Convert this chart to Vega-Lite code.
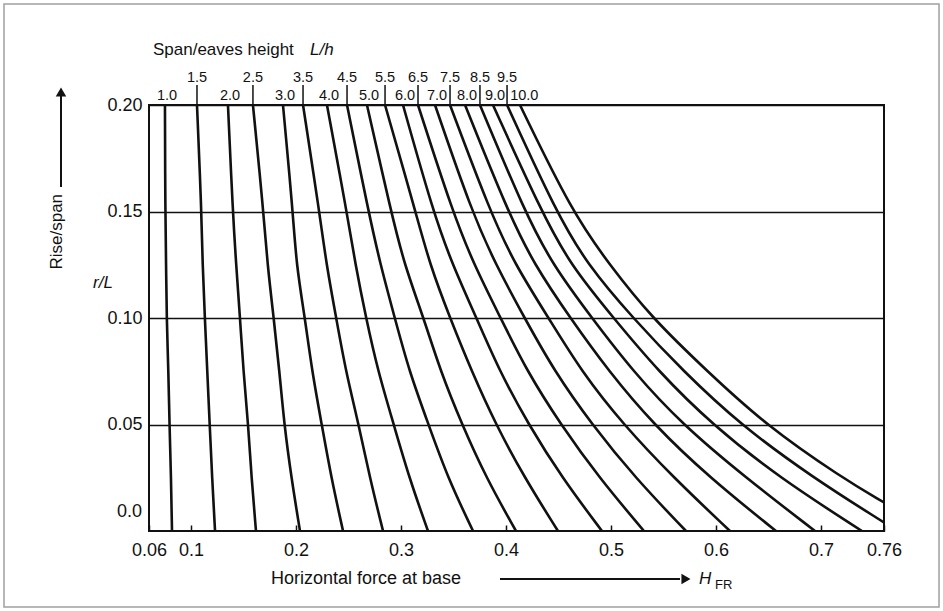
{
  "$schema": "https://vega.github.io/schema/vega-lite/v6.json",
  "width": 735,
  "height": 426,
  "autosize": "none",
  "padding": {"left": 149, "top": 105, "right": 59, "bottom": 80},
  "background": "white",
  "config": {
    "view": {"stroke": "#111", "strokeWidth": 2},
    "font": "Liberation Sans",
    "text": {"font": "Liberation Sans", "color": "#111"}
  },
  "datasets": {
    "curves": [
      {"Lh": "1.0", "r": 0.2, "H": 0.0752}, {"Lh": "1.0", "r": 0.15, "H": 0.0755}, {"Lh": "1.0", "r": 0.125, "H": 0.0763}, {"Lh": "1.0", "r": 0.1, "H": 0.0768}, {"Lh": "1.0", "r": 0.075, "H": 0.0785}, {"Lh": "1.0", "r": 0.05, "H": 0.0795}, {"Lh": "1.0", "r": 0.025, "H": 0.081}, {"Lh": "1.0", "r": 0, "H": 0.0819},
      {"Lh": "1.5", "r": 0.2, "H": 0.1057}, {"Lh": "1.5", "r": 0.15, "H": 0.11}, {"Lh": "1.5", "r": 0.125, "H": 0.111}, {"Lh": "1.5", "r": 0.1, "H": 0.1132}, {"Lh": "1.5", "r": 0.075, "H": 0.1155}, {"Lh": "1.5", "r": 0.05, "H": 0.1178}, {"Lh": "1.5", "r": 0.025, "H": 0.1201}, {"Lh": "1.5", "r": 0, "H": 0.1229},
      {"Lh": "2.0", "r": 0.2, "H": 0.1352}, {"Lh": "2.0", "r": 0.15, "H": 0.1398}, {"Lh": "2.0", "r": 0.125, "H": 0.143}, {"Lh": "2.0", "r": 0.1, "H": 0.1467}, {"Lh": "2.0", "r": 0.075, "H": 0.1499}, {"Lh": "2.0", "r": 0.05, "H": 0.1545}, {"Lh": "2.0", "r": 0.025, "H": 0.1576}, {"Lh": "2.0", "r": 0, "H": 0.1619},
      {"Lh": "2.5", "r": 0.2, "H": 0.159}, {"Lh": "2.5", "r": 0.15, "H": 0.169}, {"Lh": "2.5", "r": 0.125, "H": 0.1728}, {"Lh": "2.5", "r": 0.1, "H": 0.1788}, {"Lh": "2.5", "r": 0.075, "H": 0.1842}, {"Lh": "2.5", "r": 0.05, "H": 0.1888}, {"Lh": "2.5", "r": 0.025, "H": 0.1956}, {"Lh": "2.5", "r": 0, "H": 0.2038},
      {"Lh": "3.0", "r": 0.2, "H": 0.1876}, {"Lh": "3.0", "r": 0.15, "H": 0.197}, {"Lh": "3.0", "r": 0.125, "H": 0.2003}, {"Lh": "3.0", "r": 0.1, "H": 0.2085}, {"Lh": "3.0", "r": 0.075, "H": 0.2153}, {"Lh": "3.0", "r": 0.05, "H": 0.2245}, {"Lh": "3.0", "r": 0.025, "H": 0.2336}, {"Lh": "3.0", "r": 0, "H": 0.2448},
      {"Lh": "3.5", "r": 0.2, "H": 0.2067}, {"Lh": "3.5", "r": 0.15, "H": 0.2222}, {"Lh": "3.5", "r": 0.125, "H": 0.229}, {"Lh": "3.5", "r": 0.1, "H": 0.2383}, {"Lh": "3.5", "r": 0.075, "H": 0.2474}, {"Lh": "3.5", "r": 0.05, "H": 0.2597}, {"Lh": "3.5", "r": 0.025, "H": 0.2703}, {"Lh": "3.5", "r": 0, "H": 0.2829},
      {"Lh": "4.0", "r": 0.2, "H": 0.2295}, {"Lh": "4.0", "r": 0.15, "H": 0.2483}, {"Lh": "4.0", "r": 0.125, "H": 0.2566}, {"Lh": "4.0", "r": 0.1, "H": 0.2667}, {"Lh": "4.0", "r": 0.075, "H": 0.2781}, {"Lh": "4.0", "r": 0.05, "H": 0.2931}, {"Lh": "4.0", "r": 0.025, "H": 0.3078}, {"Lh": "4.0", "r": 0, "H": 0.3257},
      {"Lh": "4.5", "r": 0.2, "H": 0.2486}, {"Lh": "4.5", "r": 0.15, "H": 0.269}, {"Lh": "4.5", "r": 0.125, "H": 0.2804}, {"Lh": "4.5", "r": 0.1, "H": 0.2941}, {"Lh": "4.5", "r": 0.075, "H": 0.3078}, {"Lh": "4.5", "r": 0.05, "H": 0.3262}, {"Lh": "4.5", "r": 0.025, "H": 0.3445}, {"Lh": "4.5", "r": 0, "H": 0.3686},
      {"Lh": "5.0", "r": 0.2, "H": 0.2676}, {"Lh": "5.0", "r": 0.15, "H": 0.2905}, {"Lh": "5.0", "r": 0.125, "H": 0.3032}, {"Lh": "5.0", "r": 0.1, "H": 0.3216}, {"Lh": "5.0", "r": 0.075, "H": 0.3376}, {"Lh": "5.0", "r": 0.05, "H": 0.3581}, {"Lh": "5.0", "r": 0.025, "H": 0.3811}, {"Lh": "5.0", "r": 0, "H": 0.4095},
      {"Lh": "5.5", "r": 0.2, "H": 0.2848}, {"Lh": "5.5", "r": 0.15, "H": 0.3138}, {"Lh": "5.5", "r": 0.125, "H": 0.3275}, {"Lh": "5.5", "r": 0.1, "H": 0.3467}, {"Lh": "5.5", "r": 0.075, "H": 0.3673}, {"Lh": "5.5", "r": 0.05, "H": 0.3903}, {"Lh": "5.5", "r": 0.025, "H": 0.4177}, {"Lh": "5.5", "r": 0, "H": 0.4495},
      {"Lh": "6.0", "r": 0.2, "H": 0.3019}, {"Lh": "6.0", "r": 0.15, "H": 0.3305}, {"Lh": "6.0", "r": 0.125, "H": 0.349}, {"Lh": "6.0", "r": 0.1, "H": 0.3719}, {"Lh": "6.0", "r": 0.075, "H": 0.3939}, {"Lh": "6.0", "r": 0.05, "H": 0.4214}, {"Lh": "6.0", "r": 0.025, "H": 0.4534}, {"Lh": "6.0", "r": 0, "H": 0.4914},
      {"Lh": "6.5", "r": 0.2, "H": 0.3162}, {"Lh": "6.5", "r": 0.15, "H": 0.349}, {"Lh": "6.5", "r": 0.125, "H": 0.3695}, {"Lh": "6.5", "r": 0.1, "H": 0.3949}, {"Lh": "6.5", "r": 0.075, "H": 0.42}, {"Lh": "6.5", "r": 0.05, "H": 0.4521}, {"Lh": "6.5", "r": 0.025, "H": 0.4887}, {"Lh": "6.5", "r": 0, "H": 0.5314},
      {"Lh": "7.0", "r": 0.2, "H": 0.3324}, {"Lh": "7.0", "r": 0.15, "H": 0.3673}, {"Lh": "7.0", "r": 0.125, "H": 0.3903}, {"Lh": "7.0", "r": 0.1, "H": 0.4177}, {"Lh": "7.0", "r": 0.075, "H": 0.4461}, {"Lh": "7.0", "r": 0.05, "H": 0.4818}, {"Lh": "7.0", "r": 0.025, "H": 0.523}, {"Lh": "7.0", "r": 0, "H": 0.5714},
      {"Lh": "7.5", "r": 0.2, "H": 0.3467}, {"Lh": "7.5", "r": 0.15, "H": 0.3848}, {"Lh": "7.5", "r": 0.125, "H": 0.4086}, {"Lh": "7.5", "r": 0.1, "H": 0.4406}, {"Lh": "7.5", "r": 0.075, "H": 0.4717}, {"Lh": "7.5", "r": 0.05, "H": 0.5116}, {"Lh": "7.5", "r": 0.025, "H": 0.5597}, {"Lh": "7.5", "r": 0, "H": 0.6133},
      {"Lh": "8.0", "r": 0.2, "H": 0.361}, {"Lh": "8.0", "r": 0.15, "H": 0.4017}, {"Lh": "8.0", "r": 0.125, "H": 0.4269}, {"Lh": "8.0", "r": 0.1, "H": 0.4612}, {"Lh": "8.0", "r": 0.075, "H": 0.4978}, {"Lh": "8.0", "r": 0.05, "H": 0.5405}, {"Lh": "8.0", "r": 0.025, "H": 0.594}, {"Lh": "8.0", "r": 0, "H": 0.6571},
      {"Lh": "8.5", "r": 0.2, "H": 0.3752}, {"Lh": "8.5", "r": 0.15, "H": 0.4177}, {"Lh": "8.5", "r": 0.125, "H": 0.4443}, {"Lh": "8.5", "r": 0.1, "H": 0.4818}, {"Lh": "8.5", "r": 0.075, "H": 0.5208}, {"Lh": "8.5", "r": 0.05, "H": 0.5679}, {"Lh": "8.5", "r": 0.025, "H": 0.6284}, {"Lh": "8.5", "r": 0, "H": 0.6943},
      {"Lh": "9.0", "r": 0.2, "H": 0.3876}, {"Lh": "9.0", "r": 0.15, "H": 0.4337}, {"Lh": "9.0", "r": 0.125, "H": 0.4612}, {"Lh": "9.0", "r": 0.1, "H": 0.5024}, {"Lh": "9.0", "r": 0.075, "H": 0.545}, {"Lh": "9.0", "r": 0.05, "H": 0.5962}, {"Lh": "9.0", "r": 0.025, "H": 0.6604}, {"Lh": "9.0", "r": 0, "H": 0.739},
      {"Lh": "9.5", "r": 0.2, "H": 0.401}, {"Lh": "9.5", "r": 0.15, "H": 0.4475}, {"Lh": "9.5", "r": 0.125, "H": 0.4775}, {"Lh": "9.5", "r": 0.1, "H": 0.5208}, {"Lh": "9.5", "r": 0.075, "H": 0.5689}, {"Lh": "9.5", "r": 0.05, "H": 0.6229}, {"Lh": "9.5", "r": 0.025, "H": 0.6925}, {"Lh": "9.5", "r": 0.004, "H": 0.76},
      {"Lh": "10.0", "r": 0.2, "H": 0.4133}, {"Lh": "10.0", "r": 0.15, "H": 0.4626}, {"Lh": "10.0", "r": 0.125, "H": 0.4985}, {"Lh": "10.0", "r": 0.1, "H": 0.539}, {"Lh": "10.0", "r": 0.075, "H": 0.5917}, {"Lh": "10.0", "r": 0.05, "H": 0.6467}, {"Lh": "10.0", "r": 0.025, "H": 0.7199}, {"Lh": "10.0", "r": 0.0134, "H": 0.76}
    ],
    "tops": [
      {"Lh": "1.0", "H": 0.0752, "half": false}, {"Lh": "1.5", "H": 0.1057, "half": true},
      {"Lh": "2.0", "H": 0.1352, "half": false}, {"Lh": "2.5", "H": 0.159, "half": true},
      {"Lh": "3.0", "H": 0.1876, "half": false}, {"Lh": "3.5", "H": 0.2067, "half": true},
      {"Lh": "4.0", "H": 0.2295, "half": false}, {"Lh": "4.5", "H": 0.2486, "half": true},
      {"Lh": "5.0", "H": 0.2676, "half": false}, {"Lh": "5.5", "H": 0.2848, "half": true},
      {"Lh": "6.0", "H": 0.3019, "half": false}, {"Lh": "6.5", "H": 0.3162, "half": true},
      {"Lh": "7.0", "H": 0.3324, "half": false}, {"Lh": "7.5", "H": 0.3467, "half": true},
      {"Lh": "8.0", "H": 0.361, "half": false}, {"Lh": "8.5", "H": 0.3752, "half": true},
      {"Lh": "9.0", "H": 0.3876, "half": false}, {"Lh": "9.5", "H": 0.401, "half": true},
      {"Lh": "10.0", "H": 0.4155, "half": false}
    ]
  },
  "layer": [
    {
      "data": {"name": "curves"},
      "mark": {"type": "line", "color": "#111", "strokeWidth": 2.6, "interpolate": "basis", "clip": true},
      "encoding": {
        "x": {
          "field": "H", "type": "quantitative",
          "scale": {"domain": [0.06, 0.76], "nice": false, "zero": false},
          "axis": {
            "title": null,
            "values": [0.06, 0.1, 0.2, 0.3, 0.4, 0.5, 0.6, 0.7, 0.76],
            "labelExpr": "format(datum.value, '~g')",
            "labelFont": "Liberation Sans", "labelFontSize": 18, "labelColor": "#111",
            "labelPadding": 16, "labelFlush": false, "labelOverlap": false,
            "grid": false, "domain": false,
            "ticks": true, "tickSize": -6, "tickColor": "#111", "tickWidth": 1.5
          }
        },
        "y": {
          "field": "r", "type": "quantitative",
          "scale": {"domain": [0, 0.2], "nice": false, "zero": false},
          "axis": {
            "title": null,
            "values": [0.05, 0.1, 0.15, 0.2],
            "format": ".2f",
            "labelFont": "Liberation Sans", "labelFontSize": 18, "labelColor": "#111",
            "labelPadding": 7, "labelFlush": false, "labelOverlap": false,
            "grid": true, "gridColor": "#111", "gridWidth": 1.6, "gridOpacity": 1,
            "ticks": false, "domain": false
          }
        },
        "detail": {"field": "Lh", "type": "nominal"},
        "order": {"field": "r", "type": "quantitative"}
      }
    },
    {
      "data": {"values": [{}]},
      "mark": {"type": "rect", "fillOpacity": 0, "stroke": "#a0a0a0", "strokeWidth": 1.5},
      "encoding": {
        "x": {"datum": -0.0781, "type": "quantitative", "scale": {"domain": [0.06, 0.76], "nice": false, "zero": false}},
        "x2": {"datum": 0.8124},
        "y": {"datum": 0.2474, "type": "quantitative", "scale": {"domain": [0, 0.2], "nice": false, "zero": false}},
        "y2": {"datum": -0.0357}
      }
    },
    {
      "data": {"name": "tops"},
      "transform": [{"filter": "datum.half"}],
      "mark": {"type": "rule", "color": "#111", "strokeWidth": 1.5},
      "encoding": {
        "x": {"field": "H", "type": "quantitative", "scale": {"domain": [0.06, 0.76], "nice": false, "zero": false}},
        "y": {"datum": 0.2, "type": "quantitative", "scale": {"domain": [0, 0.2], "nice": false, "zero": false}},
        "y2": {"datum": 0.2094}
      }
    },
    {
      "data": {"name": "tops"},
      "transform": [{"filter": "!datum.half"}],
      "mark": {"type": "text", "fontSize": 14.5, "baseline": "middle", "align": "center", "dy": -9, "dx": 2},
      "encoding": {
        "x": {"field": "H", "type": "quantitative", "scale": {"domain": [0.06, 0.76], "nice": false, "zero": false}},
        "y": {"datum": 0.2, "type": "quantitative", "scale": {"domain": [0, 0.2], "nice": false, "zero": false}},
        "text": {"field": "Lh"}
      }
    },
    {
      "data": {"name": "tops"},
      "transform": [{"filter": "datum.half"}],
      "mark": {"type": "text", "fontSize": 14.5, "baseline": "middle", "align": "center", "dy": -27},
      "encoding": {
        "x": {"field": "H", "type": "quantitative", "scale": {"domain": [0.06, 0.76], "nice": false, "zero": false}},
        "y": {"datum": 0.2, "type": "quantitative", "scale": {"domain": [0, 0.2], "nice": false, "zero": false}},
        "text": {"field": "Lh"}
      }
    },
    {
      "data": {"values": [
        {"t": "Span/eaves height", "H": 0.0638, "r": 0.2258}
      ]},
      "mark": {"type": "text", "baseline": "middle", "align": "left", "fontSize": 17},
      "encoding": {
        "x": {"field": "H", "type": "quantitative", "scale": {"domain": [0.06, 0.76], "nice": false, "zero": false}},
        "y": {"field": "r", "type": "quantitative", "scale": {"domain": [0, 0.2], "nice": false, "zero": false}},
        "text": {"field": "t"}
      }
    },
    {
      "data": {"values": [
        {"t": "Horizontal force at base", "H": 0.1762, "r": -0.0225}
      ]},
      "mark": {"type": "text", "baseline": "middle", "align": "left", "fontSize": 18},
      "encoding": {
        "x": {"field": "H", "type": "quantitative", "scale": {"domain": [0.06, 0.76], "nice": false, "zero": false}},
        "y": {"field": "r", "type": "quantitative", "scale": {"domain": [0, 0.2], "nice": false, "zero": false}},
        "text": {"field": "t"}
      }
    },
    {
      "data": {"values": [
        {"t": "L/h", "H": 0.2133, "r": 0.2258},
        {"t": "H", "H": 0.5838, "r": -0.0225}
      ]},
      "mark": {"type": "text", "baseline": "middle", "align": "left", "fontSize": 17, "fontStyle": "italic"},
      "encoding": {
        "x": {"field": "H", "type": "quantitative", "scale": {"domain": [0.06, 0.76], "nice": false, "zero": false}},
        "y": {"field": "r", "type": "quantitative", "scale": {"domain": [0, 0.2], "nice": false, "zero": false}},
        "text": {"field": "t"}
      }
    },
    {
      "data": {"values": [{"t": "r/L", "H": 0.0162, "r": 0.1164}]},
      "mark": {"type": "text", "baseline": "middle", "align": "center", "fontSize": 17, "fontStyle": "italic"},
      "encoding": {
        "x": {"field": "H", "type": "quantitative", "scale": {"domain": [0.06, 0.76], "nice": false, "zero": false}},
        "y": {"field": "r", "type": "quantitative", "scale": {"domain": [0, 0.2], "nice": false, "zero": false}},
        "text": {"field": "t"}
      }
    },
    {
      "data": {"values": [{"t": "0.0", "H": 0.06, "r": 0}]},
      "mark": {"type": "text", "baseline": "middle", "align": "right", "fontSize": 18, "dx": -7, "dy": -19},
      "encoding": {
        "x": {"field": "H", "type": "quantitative", "scale": {"domain": [0.06, 0.76], "nice": false, "zero": false}},
        "y": {"field": "r", "type": "quantitative", "scale": {"domain": [0, 0.2], "nice": false, "zero": false}},
        "text": {"field": "t"}
      }
    },
    {
      "data": {"values": [{"t": "FR", "H": 0.599, "r": -0.0225}]},
      "mark": {"type": "text", "baseline": "middle", "align": "left", "fontSize": 13, "dy": 6},
      "encoding": {
        "x": {"field": "H", "type": "quantitative", "scale": {"domain": [0.06, 0.76], "nice": false, "zero": false}},
        "y": {"field": "r", "type": "quantitative", "scale": {"domain": [0, 0.2], "nice": false, "zero": false}},
        "text": {"field": "t"}
      }
    },
    {
      "data": {"values": [{"t": "Rise/span", "H": -0.0276, "r": 0.1405}]},
      "mark": {"type": "text", "baseline": "middle", "align": "center", "fontSize": 17, "angle": 270},
      "encoding": {
        "x": {"field": "H", "type": "quantitative", "scale": {"domain": [0.06, 0.76], "nice": false, "zero": false}},
        "y": {"field": "r", "type": "quantitative", "scale": {"domain": [0, 0.2], "nice": false, "zero": false}},
        "text": {"field": "t"}
      }
    },
    {
      "data": {"values": [{"x1": -0.0238, "x2": -0.0238, "y1": 0.1615, "y2": 0.2047}, {"x1": 0.3943, "x2": 0.5657, "y1": -0.0225, "y2": -0.0225}]},
      "mark": {"type": "rule", "color": "#111", "strokeWidth": 2},
      "encoding": {
        "x": {"field": "x1", "type": "quantitative", "scale": {"domain": [0.06, 0.76], "nice": false, "zero": false}},
        "x2": {"field": "x2"},
        "y": {"field": "y1", "type": "quantitative", "scale": {"domain": [0, 0.2], "nice": false, "zero": false}},
        "y2": {"field": "y2"}
      }
    },
    {
      "data": {"values": [{"H": -0.0238, "r": 0.2061, "shape": "triangle-up"}, {"H": 0.5714, "r": -0.0225, "shape": "triangle-right"}]},
      "mark": {"type": "point", "filled": true, "color": "#111", "size": 110, "opacity": 1},
      "encoding": {
        "x": {"field": "H", "type": "quantitative", "scale": {"domain": [0.06, 0.76], "nice": false, "zero": false}},
        "y": {"field": "r", "type": "quantitative", "scale": {"domain": [0, 0.2], "nice": false, "zero": false}},
        "shape": {"field": "shape", "type": "nominal", "scale": null}
      }
    }
  ]
}
